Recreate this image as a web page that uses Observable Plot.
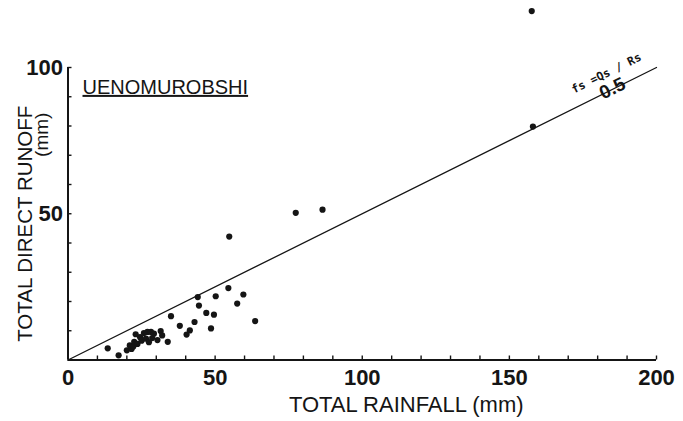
<!DOCTYPE html>
<html>
<head>
<meta charset="utf-8">
<script src="https://cdn.jsdelivr.net/npm/d3@7"></script>
<script src="https://cdn.jsdelivr.net/npm/@observablehq/plot@0.6"></script>
<style>
  html, body { margin: 0; padding: 0; background: #fff; }
  #chart svg { display: block; }
</style>
</head>
<body>
<div id="chart"></div>
<script>
// ---- data ----
const rainfall = [13.5, 17.2, 20.0, 21.0, 21.6, 22.2, 22.5, 23.0, 23.6, 24.5, 25.0, 25.8, 26.5, 27.0, 27.5, 28.2, 28.6, 29.2, 30.4, 31.5, 32.0, 33.9, 35.0, 38.0, 40.3, 41.4, 43.0, 44.1, 44.5, 47.0, 48.6, 49.6, 50.2, 54.5, 57.5, 59.6, 63.6, 54.8, 77.4, 86.5, 158.0, 157.6];
const runoff   = [4.0, 1.6, 3.3, 5.0, 3.8, 4.6, 6.2, 8.8, 5.5, 7.8, 6.6, 9.2, 7.3, 9.6, 6.1, 9.6, 7.5, 9.0, 6.8, 9.9, 8.4, 6.2, 15.0, 11.7, 8.7, 10.1, 13.0, 21.5, 18.6, 16.1, 10.8, 15.5, 21.8, 24.6, 19.3, 22.4, 13.3, 42.2, 50.3, 51.4, 79.8, 119.3];
const ratio = 0.5;                       // fs = Qs / Rs
const xMajorTicks = [0, 50, 100, 150, 200];
const yMajorTicks = [50, 100];
const xMinorTicks = [10, 20, 30, 40, 50, 60, 70, 80, 90, 100, 110, 120, 130, 140, 150, 160, 170, 180, 190, 200];
const yMinorTicks = [10, 20, 30, 40, 50, 60, 70, 80, 90, 100];
const xLabel = "TOTAL RAINFALL (mm)";
const yLabel = "TOTAL DIRECT RUNOFF";
const yUnit = "(mm)";
const stationName = "UENOMUROBSHI";
const lineLabel = "fs =Qs / Rs";
const lineValue = "0.5";

// ---- build ----
const W = 683, H = 421;
const mL = 67.5, mR = 27, mT = 67, mB = 61.5;
const frameW = W - mL - mR, frameH = H - mT - mB;
const points = rainfall.map((r, i) => ({rain: r, run: runoff[i]}));
const lineEnds = [0, 200].map(x => ({x, y: ratio * x}));
const kx = frameW / 200, ky = frameH / 100;
const angle = -Math.atan(ratio * ky / kx) * 180 / Math.PI;
const ink = "#151515";
const font = "Liberation Sans, Arial, Helvetica, sans-serif";
const tickLen = 4;                       // px, converted to data units below

const plot = Plot.plot({
  width: W, height: H,
  marginLeft: mL, marginRight: mR, marginTop: mT, marginBottom: mB,
  style: {fontFamily: font, color: ink, background: "#fff", overflow: "visible"},
  x: {domain: [0, 200], axis: null},
  y: {domain: [0, 100], axis: null},
  marks: [
    // axis lines
    Plot.ruleY([0], {stroke: ink, strokeWidth: 2}),
    Plot.ruleX([0], {stroke: ink, strokeWidth: 2}),
    // inward ticks
    Plot.ruleX(xMinorTicks, {x: d => d, y1: 0, y2: tickLen / ky, stroke: ink, strokeWidth: 1.4}),
    Plot.ruleY(yMinorTicks, {y: d => d, x1: 0, x2: tickLen / kx, stroke: ink, strokeWidth: 1.4}),
    // tick labels
    Plot.axisX(xMajorTicks, {tickSize: 0, tickPadding: 9, fontSize: 22, fontWeight: "bold", fill: ink}),
    Plot.axisY(yMajorTicks, {tickSize: 0, tickPadding: 5, fontSize: 22, fontWeight: "bold", fill: ink}),
    // reference line fs = 0.5
    Plot.line(lineEnds, {x: "x", y: "y", stroke: ink, strokeWidth: 1.3}),
    Plot.text([{x: 185}], {x: "x", y: d => ratio * d.x, text: () => lineValue, rotate: angle,
      fontSize: 19, fontWeight: "bold", fill: ink, dy: -1}),
    Plot.text([{x: 183}], {x: "x", y: d => ratio * d.x, text: () => lineLabel, rotate: angle,
      fontSize: 11.5, fontWeight: "bold", fontFamily: "DejaVu Sans Mono, monospace", fill: ink, dy: -19}),
    // points
    Plot.dot(points, {x: "rain", y: "run", r: 3.1, fill: ink, stroke: "none"}),
    // station name
    Plot.text([stationName], {frameAnchor: "top-left", text: d => d, textAnchor: "start", lineAnchor: "middle",
      dx: 14.5, dy: 20, fontSize: 20, fill: ink}),
    // axis labels
    Plot.text([xLabel], {frameAnchor: "bottom", text: d => d, textAnchor: "middle", lineAnchor: "middle", dx: 44, dy: 45, fontSize: 22, fill: ink}),
    Plot.text([yLabel], {frameAnchor: "left", text: d => d, textAnchor: "middle", rotate: -90, lineAnchor: "middle", dx: -43, dy: 10, fontSize: 20.5, fill: ink}),
    Plot.text([yUnit], {frameAnchor: "left", text: d => d, textAnchor: "middle", rotate: -90, lineAnchor: "middle", dx: -26, dy: -79, fontSize: 19, fill: ink})
  ]
});

d3.select(plot).selectAll("text").filter(function() { return this.textContent === stationName; })
  .style("text-decoration", "underline").style("text-decoration-thickness", "1.5px");

document.getElementById("chart").appendChild(plot);
</script>
</body>
</html>
